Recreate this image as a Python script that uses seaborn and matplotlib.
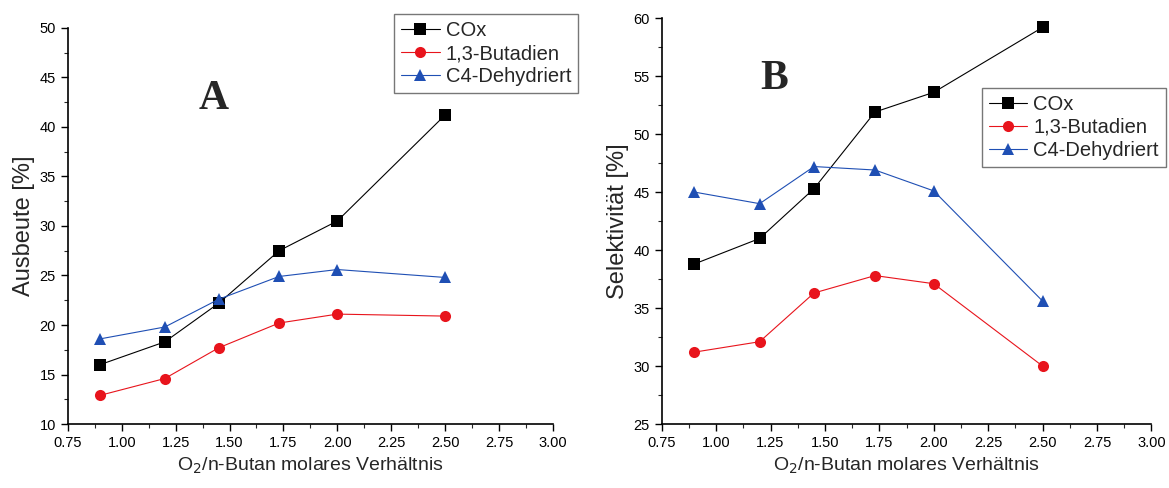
import numpy as np
import pandas as pd
import matplotlib
matplotlib.use("Agg")
import matplotlib.pyplot as plt
import seaborn as sns
from matplotlib.ticker import MultipleLocator, FixedLocator

ratio = [0.9, 1.2, 1.45, 1.73, 2.0, 2.5]
series_names = ["COx", "1,3-Butadien", "C4-Dehydriert"]

yield_cox = [16.0, 18.3, 22.2, 27.5, 30.5, 41.2]
yield_butadien = [12.9, 14.6, 17.7, 20.2, 21.1, 20.9]
yield_c4 = [18.6, 19.8, 22.6, 24.9, 25.6, 24.8]

sel_cox = [38.8, 41.0, 45.3, 51.9, 53.6, 59.2]
sel_butadien = [31.2, 32.1, 36.3, 37.8, 37.1, 30.0]
sel_c4 = [45.0, 44.0, 47.2, 46.9, 45.1, 35.6]

x_ticks = [0.75, 1.00, 1.25, 1.50, 1.75, 2.00, 2.25, 2.50, 2.75, 3.00]
x_tick_labels = ["0.75", "1.00", "1.25", "1.50", "1.75", "2.00", "2.25", "2.50", "2.75", "3.00"]

sns.set_theme(style="ticks")
plt.rcParams["font.family"] = ["Liberation Sans", "DejaVu Sans"]


def long_df(a, b, c):
    rows = []
    for name, vals in zip(series_names, [a, b, c]):
        for xv, yv in zip(ratio, vals):
            rows.append({"x": xv, "y": yv, "Serie": name})
    return pd.DataFrame(rows)


palette = {"COx": "#000000", "1,3-Butadien": "#e8141c", "C4-Dehydriert": "#1f4fb4"}
markers = {"COx": "s", "1,3-Butadien": "o", "C4-Dehydriert": "^"}

fig = plt.figure(figsize=(11.69, 4.88), dpi=100)
axA = fig.add_axes([0.058, 0.131, 0.415, 0.812])
axB = fig.add_axes([0.566, 0.131, 0.419, 0.832])


def draw(ax, df, ylim, ymajor, yminor, ylabel, letter, letter_pos, leg_anchor):
    sns.lineplot(data=df, x="x", y="y", hue="Serie", style="Serie",
                 palette=palette, markers=markers, dashes=False,
                 linewidth=0.8, markersize=8, markeredgewidth=0,
                 ax=ax, sort=False)
    ax.set_xlim(0.75, 3.0)
    ax.set_ylim(*ylim)
    ax.xaxis.set_major_locator(FixedLocator(x_ticks))
    ax.set_xticklabels(x_tick_labels)
    ax.xaxis.set_minor_locator(MultipleLocator(0.125))
    ax.yaxis.set_major_locator(MultipleLocator(ymajor))
    ax.yaxis.set_minor_locator(MultipleLocator(yminor))
    ax.tick_params(axis="both", which="major", direction="out", length=5, width=1,
                   labelsize=10.5, colors="black")
    ax.tick_params(axis="both", which="minor", direction="out", length=3, width=0.8)
    for s in ["left", "bottom"]:
        ax.spines[s].set_linewidth(1.2)
        ax.spines[s].set_color("black")
    sns.despine(ax=ax)
    ax.set_xlabel("O$_2$/n-Butan molares Verhältnis", fontsize=14, labelpad=4)
    ax.set_ylabel(ylabel, fontsize=17, labelpad=3)
    ax.text(letter_pos[0], letter_pos[1], letter, transform=ax.transAxes,
            fontsize=30, fontweight="bold", family="Liberation Serif",
            ha="center", va="center")
    leg = ax.legend(loc="upper right", bbox_to_anchor=leg_anchor, fontsize=14.5,
                    frameon=True, fancybox=False, edgecolor="#555555",
                    handlelength=1.9, borderpad=0.35, labelspacing=0.2,
                    handletextpad=0.3, borderaxespad=0, title=None)
    leg.get_frame().set_linewidth(1.0)


draw(axA, long_df(yield_cox, yield_butadien, yield_c4), (10, 50), 5, 2.5,
     "Ausbeute [%]", "A", (0.30, 0.82), (1.052, 1.035))
draw(axB, long_df(sel_cox, sel_butadien, sel_c4), (25, 60), 5, 2.5,
     "Selektivität [%]", "B", (0.23, 0.85), (1.029, 0.828))

fig.savefig("out.png", dpi=100)
